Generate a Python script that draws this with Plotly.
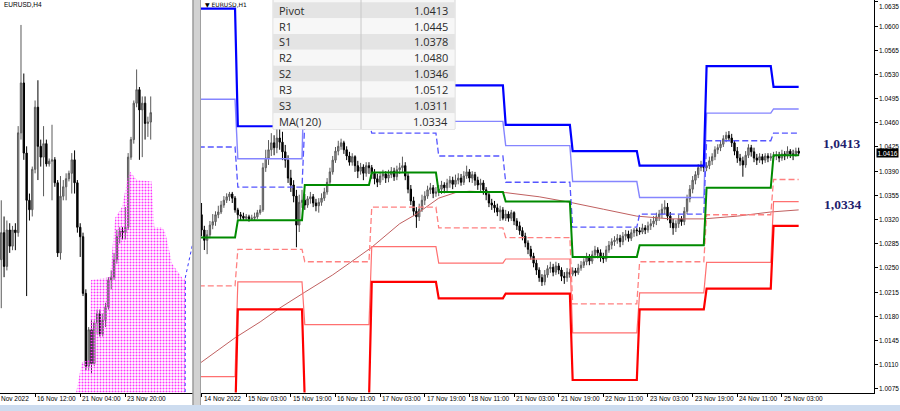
import plotly.graph_objects as go

W, H = 900, 411

# ---------------- H1 (right panel) data ----------------
# bar index = trading hour counted from 14 Nov 2022 00:00 (weekend skipped)
h1_bar = list(range(10, 226))

h1_open = [
 1.0319, 1.0327, 1.0305, 1.0290, 1.0298, 1.0312, 1.0317, 1.0327, 1.0331, 1.0341, 1.0348, 1.0353, 1.0357, 1.0351,
 1.0334, 1.0327, 1.0325, 1.0322, 1.0324, 1.0321, 1.0322, 1.0324, 1.0330, 1.0334, 1.0395, 1.0409, 1.0421, 1.0431, 1.0424, 1.0438, 1.0432, 1.0418, 1.0406, 1.0380, 1.0370, 1.0354, 1.0312, 1.0345,
 1.0348, 1.0341, 1.0350, 1.0353, 1.0344, 1.0340, 1.0345, 1.0351, 1.0360, 1.0374, 1.0389, 1.0406, 1.0419, 1.0426, 1.0431, 1.0421, 1.0412, 1.0403, 1.0411, 1.0398, 1.0390, 1.0396, 1.0387, 1.0398,
 1.0395, 1.0387, 1.0379, 1.0374, 1.0383, 1.0386, 1.0380, 1.0385, 1.0390, 1.0382, 1.0392, 1.0395, 1.0398, 1.0383, 1.0364, 1.0347, 1.0332, 1.0324, 1.0335, 1.0348, 1.0354, 1.0363, 1.0366, 1.0358,
 1.0360, 1.0364, 1.0370, 1.0366, 1.0373, 1.0377, 1.0371, 1.0377, 1.0380, 1.0374, 1.0383, 1.0389, 1.0380, 1.0385, 1.0377, 1.0370, 1.0373, 1.0363, 1.0356, 1.0344, 1.0341, 1.0337, 1.0331, 1.0334,
 1.0322, 1.0328, 1.0322, 1.0330, 1.0318, 1.0311, 1.0304, 1.0296, 1.0286, 1.0277, 1.0267, 1.0257, 1.0247, 1.0236, 1.0230, 1.0240, 1.0249, 1.0251, 1.0244, 1.0253, 1.0247, 1.0238, 1.0236, 1.0244,
 1.0241, 1.0246, 1.0243, 1.0250, 1.0254, 1.0259, 1.0266, 1.0260, 1.0269, 1.0276, 1.0272, 1.0266, 1.0263, 1.0276, 1.0283, 1.0288, 1.0290, 1.0293, 1.0288, 1.0296, 1.0299, 1.0293, 1.0301, 1.0305,
 1.0304, 1.0302, 1.0308, 1.0305, 1.0311, 1.0314, 1.0318, 1.0324, 1.0328, 1.0335, 1.0338, 1.0325, 1.0315, 1.0308, 1.0314, 1.0321, 1.0317, 1.0332, 1.0350, 1.0364, 1.0377, 1.0385, 1.0395, 1.0399,
 1.0395, 1.0398, 1.0405, 1.0411, 1.0421, 1.0424, 1.0429, 1.0437, 1.0442, 1.0438, 1.0431, 1.0419, 1.0409, 1.0405, 1.0399, 1.0413, 1.0424, 1.0418, 1.0409, 1.0406, 1.0411, 1.0406, 1.0412, 1.0409,
 1.0411, 1.0412, 1.0413, 1.0409, 1.0415, 1.0412, 1.0419, 1.0415, 1.0413, 1.0419,
]
h1_high = [
 1.0341, 1.0344, 1.0311, 1.0305, 1.0318, 1.0328, 1.0332, 1.0340, 1.0347, 1.0354, 1.0358, 1.0360, 1.0360, 1.0354,
 1.0337, 1.0331, 1.0330, 1.0328, 1.0327, 1.0327, 1.0330, 1.0334, 1.0341, 1.0402, 1.0421, 1.0435, 1.0445, 1.0442, 1.0452, 1.0481, 1.0447, 1.0428, 1.0413, 1.0392, 1.0377, 1.0363, 1.0356, 1.0363,
 1.0357, 1.0354, 1.0360, 1.0357, 1.0350, 1.0351, 1.0358, 1.0366, 1.0380, 1.0395, 1.0412, 1.0425, 1.0434, 1.0437, 1.0434, 1.0426, 1.0418, 1.0416, 1.0413, 1.0405, 1.0402, 1.0400, 1.0403, 1.0403,
 1.0399, 1.0393, 1.0386, 1.0389, 1.0392, 1.0390, 1.0392, 1.0396, 1.0395, 1.0398, 1.0402, 1.0411, 1.0403, 1.0387, 1.0370, 1.0353, 1.0338, 1.0343, 1.0356, 1.0361, 1.0369, 1.0373, 1.0370, 1.0367,
 1.0370, 1.0376, 1.0374, 1.0379, 1.0383, 1.0382, 1.0385, 1.0387, 1.0386, 1.0390, 1.0398, 1.0393, 1.0390, 1.0389, 1.0382, 1.0379, 1.0377, 1.0367, 1.0360, 1.0350, 1.0347, 1.0343, 1.0340, 1.0338,
 1.0334, 1.0332, 1.0334, 1.0332, 1.0322, 1.0317, 1.0309, 1.0301, 1.0290, 1.0282, 1.0272, 1.0262, 1.0251, 1.0241, 1.0247, 1.0254, 1.0259, 1.0256, 1.0259, 1.0257, 1.0251, 1.0244, 1.0250, 1.0249,
 1.0251, 1.0250, 1.0256, 1.0260, 1.0264, 1.0272, 1.0270, 1.0275, 1.0282, 1.0280, 1.0277, 1.0272, 1.0282, 1.0289, 1.0293, 1.0296, 1.0299, 1.0298, 1.0302, 1.0305, 1.0304, 1.0306, 1.0308, 1.0308,
 1.0309, 1.0314, 1.0312, 1.0317, 1.0321, 1.0325, 1.0330, 1.0334, 1.0343, 1.0348, 1.0344, 1.0331, 1.0321, 1.0319, 1.0327, 1.0325, 1.0338, 1.0356, 1.0370, 1.0383, 1.0390, 1.0400, 1.0405, 1.0403,
 1.0403, 1.0411, 1.0416, 1.0426, 1.0429, 1.0435, 1.0442, 1.0447, 1.0448, 1.0444, 1.0435, 1.0425, 1.0415, 1.0411, 1.0419, 1.0429, 1.0428, 1.0424, 1.0415, 1.0416, 1.0415, 1.0416, 1.0416, 1.0416,
 1.0418, 1.0419, 1.0418, 1.0421, 1.0419, 1.0426, 1.0422, 1.0421, 1.0424, 1.0424,
]
h1_low = [
 1.0308, 1.0296, 1.0276, 1.0270, 1.0293, 1.0306, 1.0311, 1.0322, 1.0328, 1.0337, 1.0344, 1.0347, 1.0344, 1.0330,
 1.0321, 1.0319, 1.0318, 1.0318, 1.0317, 1.0318, 1.0319, 1.0321, 1.0327, 1.0331, 1.0389, 1.0399, 1.0412, 1.0413, 1.0416, 1.0421, 1.0406, 1.0395, 1.0373, 1.0360, 1.0345, 1.0280, 1.0302, 1.0337,
 1.0334, 1.0337, 1.0343, 1.0338, 1.0332, 1.0330, 1.0340, 1.0347, 1.0356, 1.0369, 1.0385, 1.0402, 1.0413, 1.0421, 1.0415, 1.0406, 1.0398, 1.0398, 1.0389, 1.0380, 1.0385, 1.0377, 1.0382, 1.0386,
 1.0379, 1.0371, 1.0367, 1.0370, 1.0377, 1.0373, 1.0374, 1.0380, 1.0376, 1.0377, 1.0386, 1.0389, 1.0377, 1.0358, 1.0341, 1.0325, 1.0308, 1.0318, 1.0331, 1.0341, 1.0350, 1.0357, 1.0351, 1.0353,
 1.0354, 1.0357, 1.0358, 1.0360, 1.0366, 1.0364, 1.0367, 1.0371, 1.0369, 1.0370, 1.0379, 1.0374, 1.0373, 1.0369, 1.0363, 1.0361, 1.0356, 1.0348, 1.0338, 1.0334, 1.0330, 1.0325, 1.0318, 1.0319,
 1.0318, 1.0317, 1.0318, 1.0312, 1.0305, 1.0298, 1.0290, 1.0280, 1.0270, 1.0262, 1.0251, 1.0240, 1.0230, 1.0224, 1.0225, 1.0236, 1.0243, 1.0238, 1.0240, 1.0241, 1.0231, 1.0227, 1.0230, 1.0236,
 1.0238, 1.0238, 1.0240, 1.0246, 1.0250, 1.0254, 1.0254, 1.0256, 1.0264, 1.0264, 1.0259, 1.0257, 1.0259, 1.0272, 1.0277, 1.0282, 1.0285, 1.0280, 1.0283, 1.0290, 1.0288, 1.0289, 1.0295, 1.0296,
 1.0298, 1.0299, 1.0299, 1.0301, 1.0305, 1.0309, 1.0312, 1.0318, 1.0322, 1.0328, 1.0319, 1.0308, 1.0298, 1.0302, 1.0308, 1.0311, 1.0312, 1.0328, 1.0345, 1.0358, 1.0371, 1.0380, 1.0390, 1.0389,
 1.0390, 1.0393, 1.0399, 1.0406, 1.0415, 1.0419, 1.0425, 1.0432, 1.0434, 1.0425, 1.0413, 1.0402, 1.0398, 1.0382, 1.0395, 1.0409, 1.0411, 1.0403, 1.0399, 1.0402, 1.0400, 1.0402, 1.0403, 1.0405,
 1.0405, 1.0406, 1.0403, 1.0405, 1.0406, 1.0408, 1.0409, 1.0406, 1.0411, 1.0412,
]
h1_close = [
 1.0327, 1.0305, 1.0290, 1.0298, 1.0312, 1.0317, 1.0327, 1.0331, 1.0341, 1.0348, 1.0353, 1.0357, 1.0351, 1.0334,
 1.0327, 1.0325, 1.0322, 1.0324, 1.0321, 1.0322, 1.0324, 1.0330, 1.0334, 1.0395, 1.0409, 1.0421, 1.0431, 1.0424, 1.0438, 1.0432, 1.0418, 1.0406, 1.0380, 1.0370, 1.0354, 1.0312, 1.0345, 1.0348,
 1.0341, 1.0350, 1.0353, 1.0344, 1.0340, 1.0345, 1.0351, 1.0360, 1.0374, 1.0389, 1.0406, 1.0419, 1.0426, 1.0431, 1.0421, 1.0412, 1.0403, 1.0411, 1.0398, 1.0390, 1.0396, 1.0387, 1.0398, 1.0395,
 1.0387, 1.0379, 1.0374, 1.0383, 1.0386, 1.0380, 1.0385, 1.0390, 1.0382, 1.0392, 1.0395, 1.0398, 1.0383, 1.0364, 1.0347, 1.0332, 1.0324, 1.0335, 1.0348, 1.0354, 1.0363, 1.0366, 1.0358, 1.0360,
 1.0364, 1.0370, 1.0366, 1.0373, 1.0377, 1.0371, 1.0377, 1.0380, 1.0374, 1.0383, 1.0389, 1.0380, 1.0385, 1.0377, 1.0370, 1.0373, 1.0363, 1.0356, 1.0344, 1.0341, 1.0337, 1.0331, 1.0334, 1.0322,
 1.0328, 1.0322, 1.0330, 1.0318, 1.0311, 1.0304, 1.0296, 1.0286, 1.0277, 1.0267, 1.0257, 1.0247, 1.0236, 1.0230, 1.0240, 1.0249, 1.0251, 1.0244, 1.0253, 1.0247, 1.0238, 1.0236, 1.0244, 1.0241,
 1.0246, 1.0243, 1.0250, 1.0254, 1.0259, 1.0266, 1.0260, 1.0269, 1.0276, 1.0272, 1.0266, 1.0263, 1.0276, 1.0283, 1.0288, 1.0290, 1.0293, 1.0288, 1.0296, 1.0299, 1.0293, 1.0301, 1.0305, 1.0304,
 1.0302, 1.0308, 1.0305, 1.0311, 1.0314, 1.0318, 1.0324, 1.0328, 1.0335, 1.0338, 1.0325, 1.0315, 1.0308, 1.0314, 1.0321, 1.0317, 1.0332, 1.0350, 1.0364, 1.0377, 1.0385, 1.0395, 1.0399, 1.0395,
 1.0398, 1.0405, 1.0411, 1.0421, 1.0424, 1.0429, 1.0437, 1.0442, 1.0438, 1.0431, 1.0419, 1.0409, 1.0405, 1.0399, 1.0413, 1.0424, 1.0418, 1.0409, 1.0406, 1.0411, 1.0406, 1.0412, 1.0409, 1.0411,
 1.0412, 1.0413, 1.0409, 1.0415, 1.0412, 1.0419, 1.0415, 1.0413, 1.0419, 1.0416,
]

# daily pivot levels (14 Nov ... 25 Nov)
day_first_bar = [10, 24, 48, 72, 96, 120, 144, 168, 192, 216]
day_last_bar = [23, 47, 71, 95, 119, 143, 167, 191, 215, 225]
piv_R3 = [1.0625, 1.0455, 1.0663, 1.0552, 1.0514, 1.0457, 1.0419, 1.0398, 1.0542, 1.0512]
piv_R2 = [1.0494, 1.0408, 1.0572, 1.0495, 1.0462, 1.0427, 1.0375, 1.0352, 1.0474, 1.0480]
piv_R1 = [1.0425, 1.0367, 1.0461, 1.0445, 1.0412, 1.0374, 1.0309, 1.0328, 1.0434, 1.0445]
piv_P = [1.0294, 1.0319, 1.0370, 1.0388, 1.0360, 1.0346, 1.0266, 1.0283, 1.0366, 1.0413]
piv_S1 = [1.0224, 1.0277, 1.0259, 1.0338, 1.0308, 1.0294, 1.0198, 1.0259, 1.0327, 1.0378]
piv_S2 = [1.0093, 1.0230, 1.0168, 1.0281, 1.0257, 1.0263, 1.0156, 1.0214, 1.0258, 1.0346]
piv_S3 = [1.0025, 1.0190, 1.0057, 1.0230, 1.0206, 1.0213, 1.0088, 1.0190, 1.0220, 1.0311]

# MA(120)
ma_bar = [10, 23, 32, 39, 48, 58, 64, 72, 82, 88, 96, 102, 107, 115, 120, 132, 143, 155, 167, 179, 191, 203, 215, 225]
ma_val = [1.0111, 1.0149, 1.0172, 1.0192, 1.0215, 1.0240, 1.0257, 1.0280, 1.0314, 1.0328, 1.0351, 1.0359,
          1.0361, 1.0360, 1.0359, 1.0353, 1.0345, 1.0335, 1.0325, 1.0321, 1.0321, 1.0325, 1.0331, 1.0334]

h1_tick_bar = [11, 27, 43, 59, 75, 91, 107, 123, 139, 155, 171, 187, 203, 219]
h1_tick_text = ["14 Nov 2022", "15 Nov 03:00", "15 Nov 19:00", "16 Nov 11:00", "17 Nov 03:00",
                "17 Nov 19:00", "18 Nov 11:00", "21 Nov 03:00", "21 Nov 19:00", "22 Nov 11:00",
                "23 Nov 03:00", "23 Nov 19:00", "24 Nov 11:00", "25 Nov 03:00"]
price_ticks = [1.0075, 1.0110, 1.0145, 1.0180, 1.0215, 1.0250, 1.0285, 1.0320, 1.0355,
               1.0390, 1.0425, 1.0460, 1.0495, 1.0530, 1.0565, 1.0600, 1.0635]
last_price = 1.0416

table_names = ["Pivot", "R1", "S1", "R2", "S2", "R3", "S3", "MA(120)"]
table_values = ["1.0413", "1.0445", "1.0378", "1.0480", "1.0346", "1.0512", "1.0311", "1.0334"]
big_labels = ["1,0413", "1,0334"]

# ---------------- H4 (left panel) data ----------------
h4_bar = list(range(2, 57))
h4_open = [1.0297, 1.0307, 1.0327, 1.0302, 1.0329, 1.0317, 1.0329, 1.0327, 1.0401, 1.0438, 1.0386, 1.0351, 1.0344, 1.0374,
           1.0420, 1.0391, 1.0383, 1.0393, 1.0378, 1.0380, 1.0381, 1.0364, 1.0312, 1.0354, 1.0361, 1.0367, 1.0371, 1.0381,
           1.0364, 1.0331, 1.0324, 1.0282, 1.0228, 1.0255, 1.0230, 1.0260, 1.0267, 1.0252, 1.0262, 1.0272, 1.0292, 1.0294,
           1.0307, 1.0324, 1.0328, 1.0327, 1.0331, 1.0383, 1.0396, 1.0423, 1.0433, 1.0418, 1.0423, 1.0408, 1.0409]
h4_high = [1.0327, 1.0351, 1.0339, 1.0336, 1.0334, 1.0332, 1.0334, 1.0406, 1.0481, 1.0445, 1.0391, 1.0356, 1.0376, 1.0425,
           1.0440, 1.0396, 1.0406, 1.0396, 1.0382, 1.0407, 1.0383, 1.0366, 1.0369, 1.0366, 1.0371, 1.0373, 1.0386, 1.0388,
           1.0366, 1.0334, 1.0327, 1.0285, 1.0257, 1.0262, 1.0262, 1.0270, 1.0270, 1.0267, 1.0275, 1.0294, 1.0299, 1.0312,
           1.0329, 1.0331, 1.0331, 1.0346, 1.0386, 1.0398, 1.0425, 1.0448, 1.0435, 1.0428, 1.0428, 1.0413, 1.0428]
h4_low = [1.0290, 1.0271, 1.0294, 1.0299, 1.0312, 1.0314, 1.0314, 1.0324, 1.0396, 1.0381, 1.0280, 1.0336, 1.0339, 1.0371,
          1.0366, 1.0376, 1.0354, 1.0376, 1.0376, 1.0351, 1.0361, 1.0309, 1.0307, 1.0351, 1.0351, 1.0365, 1.0356, 1.0356,
          1.0327, 1.0309, 1.0280, 1.0225, 1.0225, 1.0223, 1.0228, 1.0252, 1.0250, 1.0250, 1.0257, 1.0270, 1.0285, 1.0292,
          1.0304, 1.0319, 1.0322, 1.0322, 1.0329, 1.0381, 1.0393, 1.0420, 1.0381, 1.0383, 1.0396, 1.0398, 1.0396]
h4_close = [1.0307, 1.0327, 1.0302, 1.0329, 1.0317, 1.0329, 1.0327, 1.0401, 1.0438, 1.0386, 1.0351, 1.0344, 1.0374, 1.0420,
            1.0391, 1.0383, 1.0393, 1.0378, 1.0380, 1.0381, 1.0364, 1.0312, 1.0354, 1.0361, 1.0367, 1.0371, 1.0381, 1.0364,
            1.0331, 1.0324, 1.0282, 1.0228, 1.0255, 1.0230, 1.0260, 1.0267, 1.0252, 1.0262, 1.0272, 1.0292, 1.0294, 1.0307,
            1.0324, 1.0328, 1.0327, 1.0331, 1.0383, 1.0396, 1.0423, 1.0433, 1.0418, 1.0423, 1.0408, 1.0409, 1.0416]
h4_tick_bar = [15, 31, 47]
h4_tick_text = ["16 Nov 12:00", "21 Nov 04:00", "23 Nov 20:00"]
h4_first_label = "Nov 2022"

cloud_bar = [29.6, 31.6, 34.4, 34.8, 41.5, 43.4, 45.8, 48.2, 48.8, 51.1, 56.3, 57.3, 60.0, 61.2, 63.6, 67.7, 68.3]
cloud_top = [1.0209, 1.0231, 1.0233, 1.0292, 1.0294, 1.0338, 1.0346, 1.0371, 1.0372, 1.0366, 1.0365, 1.0331,
             1.0331, 1.0327, 1.0304, 1.0292, 1.0294]
cloud_floor = 1.0150
blue_bar = [68.2, 68.3, 70.9]
blue_val = [1.0200, 1.0294, 1.0319]

# ---------------- geometry helpers ----------------
def X(px):
    return px / W

def Y(py):
    return 1 - py / H

PLOT_BOTTOM = 392.5
FONT = "Liberation Sans"
axis_font = dict(family=FONT, size=6.5, color="#000000")

fig = go.Figure()

# ---- left panel (H4) ----
fig.add_trace(go.Scatter(
    x=cloud_bar + [cloud_bar[-1], cloud_bar[0]],
    y=cloud_top + [cloud_floor, cloud_floor],
    mode="lines", fill="toself", line=dict(width=0),
    fillcolor="rgba(255,255,255,0)",
    fillpattern=dict(shape=".", fgcolor="#ff33ff", bgcolor="rgba(255,255,255,0)",
                     size=3, solidity=0.35, fillmode="replace"),
    hoverinfo="skip", xaxis="x", yaxis="y"))
fig.add_trace(go.Scatter(x=blue_bar, y=blue_val, mode="lines",
                         line=dict(color="#3a3aff", width=1, dash="dot"),
                         hoverinfo="skip", xaxis="x", yaxis="y"))
fig.add_trace(go.Candlestick(
    x=h4_bar, open=h4_open, high=h4_high, low=h4_low, close=h4_close,
    increasing=dict(line=dict(color="#5a5a5a", width=1), fillcolor="#9c9c9c"),
    decreasing=dict(line=dict(color="#000000", width=1), fillcolor="#000000"),
    hoverinfo="skip", xaxis="x", yaxis="y"))

# ---- right panel (H1) ----
fig.add_trace(go.Scatter(x=ma_bar, y=ma_val, mode="lines",
                         line=dict(color="#c06060", width=1),
                         hoverinfo="skip", xaxis="x2", yaxis="y2"))

def level_series(vals):
    xs, ys = [], []
    for first, last, v in zip(day_first_bar, day_last_bar, vals):
        for b in range(first, last + 1):
            xs.append(b)
            ys.append(v)
    return xs, ys

level_styles = [
    (piv_S2, "#ff7070", 1.2, "solid"),
    (piv_S1, "#ff8080", 1.3, "6px,3px"),
    (piv_R2, "#8585ff", 1.4, "solid"),
    (piv_R1, "#5555ff", 1.3, "6px,3px"),
    (piv_S3, "#ff0000", 2.2, "solid"),
    (piv_R3, "#0000ff", 2.2, "solid"),
    (piv_P, "#008a00", 2.0, "solid"),
]
for vals, color, width, dash in level_styles:
    xs, ys = level_series(vals)
    fig.add_trace(go.Scatter(x=xs, y=ys, mode="lines",
                             line=dict(color=color, width=width, dash=dash),
                             hoverinfo="skip", xaxis="x2", yaxis="y2"))

fig.add_trace(go.Candlestick(
    x=h1_bar, open=h1_open, high=h1_high, low=h1_low, close=h1_close,
    increasing=dict(line=dict(color="#5a5a5a", width=1), fillcolor="#9c9c9c"),
    decreasing=dict(line=dict(color="#000000", width=1), fillcolor="#000000"),
    hoverinfo="skip", xaxis="x2", yaxis="y2"))

# ---------------- shapes ----------------
shapes = []
# panel separator
shapes.append(dict(type="rect", xref="paper", yref="paper", x0=X(192.5), x1=X(201), y0=Y(405), y1=Y(0),
                   fillcolor="#d2d2d2", line=dict(width=0), layer="above"))
shapes.append(dict(type="line", xref="paper", yref="paper", x0=X(193), x1=X(193), y0=Y(405), y1=Y(0),
                   line=dict(color="#808080", width=1), layer="above"))
shapes.append(dict(type="line", xref="paper", yref="paper", x0=X(200.5), x1=X(200.5), y0=Y(405), y1=Y(0),
                   line=dict(color="#a0a0a0", width=1), layer="above"))
# bottom tab strip
shapes.append(dict(type="rect", xref="paper", yref="paper", x0=0, x1=1, y0=0, y1=Y(405),
                   fillcolor="#cddcef", line=dict(width=0), layer="above"))

# table
TX0, TX1, TDIV = 273, 455, 361
ROW_TOP, ROW_H = 2.3, 15.85
shapes.append(dict(type="rect", xref="paper", yref="paper", x0=X(TX0), x1=X(TX1), y0=Y(ROW_TOP + 8 * ROW_H), y1=Y(-2),
                   fillcolor="#f7f7f7", line=dict(color="#d6d6d6", width=1), layer="above"))
for k in range(len(table_names)):
    top = ROW_TOP + k * ROW_H
    color = "#e4e4e4" if k % 2 == 0 else "#f7f7f7"
    shapes.append(dict(type="rect", xref="paper", yref="paper", x0=X(TX0 + 0.5), x1=X(TX1 - 0.5),
                       y0=Y(top + ROW_H), y1=Y(top), fillcolor=color, line=dict(width=0), layer="above"))
shapes.append(dict(type="line", xref="paper", yref="paper", x0=X(TDIV), x1=X(TDIV), y0=Y(ROW_TOP + 8 * ROW_H), y1=Y(0),
                   line=dict(color="#c8c8c8", width=1), layer="above"))

# ---------------- annotations ----------------
ann = []
for k, (name, val) in enumerate(zip(table_names, table_values)):
    cy = ROW_TOP + k * ROW_H + ROW_H / 2
    ann.append(dict(text=name, xref="paper", yref="paper", x=X(277), y=Y(cy), xanchor="left", yanchor="middle",
                    showarrow=False, font=dict(family="Open Sans", size=11, color="#2b2b2b")))
    ann.append(dict(text=val, xref="paper", yref="paper", x=X(450), y=Y(cy), xanchor="right", yanchor="middle",
                    showarrow=False, font=dict(family="Open Sans", size=11, color="#2b2b2b")))

ann.append(dict(text=big_labels[0], xref="paper", yref="paper", x=X(841), y=Y(143), xanchor="center", yanchor="middle",
                showarrow=False, font=dict(family="Liberation Serif", size=13.5, color="#1f1f6e", weight="bold")))
ann.append(dict(text=big_labels[1], xref="paper", yref="paper", x=X(842), y=Y(204), xanchor="center", yanchor="middle",
                showarrow=False, font=dict(family="Liberation Serif", size=13.5, color="#1f1f6e", weight="bold")))

# price-axis labels (right panel), drawn right of the axis line
for v in price_ticks:
    ann.append(dict(text=f"{v:.4f}", xref="paper", yref="y2", x=X(878), y=v, xanchor="left",
                    yanchor="top" if v == max(price_ticks) else "middle",
                    showarrow=False, font=axis_font, borderpad=0))
ann.append(dict(text=f"{last_price:.4f}", xref="paper", yref="y2", x=X(876), y=last_price, xanchor="left",
                yanchor="middle", showarrow=False, bgcolor="#000000", borderpad=0.5,
                font=dict(family=FONT, size=6.5, color="#ffffff")))

# time-axis labels, starting at their tick (MetaTrader style)
for b, t in zip(h1_tick_bar, h1_tick_text):
    ann.append(dict(text=t, xref="x2", yref="paper", x=b, y=Y(398), xanchor="left", yanchor="middle",
                    xshift=1, showarrow=False, font=axis_font, borderpad=0))
for b, t in zip(h4_tick_bar, h4_tick_text):
    ann.append(dict(text=t, xref="x", yref="paper", x=b, y=Y(398), xanchor="left", yanchor="middle",
                    xshift=1, showarrow=False, font=axis_font, borderpad=0))
ann.append(dict(text=h4_first_label, xref="paper", yref="paper", x=X(0), y=Y(398), xanchor="left", yanchor="middle",
                showarrow=False, font=axis_font, borderpad=0))

ann.append(dict(text="▼ EURUSD,H1", xref="paper", yref="paper", x=X(203), y=Y(4.5), xanchor="left", yanchor="middle",
                showarrow=False, font=dict(family="DejaVu Sans", size=6, color="#000000")))
ann.append(dict(text="EURUSD,H4", xref="paper", yref="paper", x=X(2), y=Y(5), xanchor="left", yanchor="middle",
                showarrow=False, font=dict(family=FONT, size=6.5, color="#000000")))

fig.update_layout(
    width=W, height=H, margin=dict(l=0, r=0, t=0, b=0, pad=0),
    paper_bgcolor="white", plot_bgcolor="white", showlegend=False,
    xaxis=dict(domain=[0, X(192.5)], range=[2.556, 70.82], anchor="y",
               showgrid=False, zeroline=False, showline=True, linecolor="#000000", linewidth=1,
               ticks="outside", ticklen=3, tickcolor="#000000", tickvals=h4_tick_bar,
               showticklabels=False, rangeslider=dict(visible=False), fixedrange=True),
    yaxis=dict(domain=[Y(PLOT_BOTTOM), 1], range=[1.02085, 1.04995], anchor="x", side="right",
               showgrid=False, zeroline=False, showline=True, linecolor="#000000", linewidth=1,
               showticklabels=False, ticks="", fixedrange=True),
    xaxis2=dict(domain=[X(201), X(874)], range=[10.8, 252.0], anchor="y2",
                showgrid=False, zeroline=False, showline=True, linecolor="#000000", linewidth=1,
                ticks="outside", ticklen=3, tickcolor="#000000", tickvals=h1_tick_bar,
                showticklabels=False, rangeslider=dict(visible=False), fixedrange=True),
    yaxis2=dict(domain=[Y(PLOT_BOTTOM), 1], range=[1.00699, 1.06376], anchor="x2", side="right",
                showgrid=False, zeroline=False, showline=True, linecolor="#000000", linewidth=1,
                ticks="outside", ticklen=3, tickcolor="#000000", tickvals=price_ticks,
                showticklabels=False, fixedrange=True),
    shapes=shapes, annotations=ann,
)

fig.write_html("out.html", config={"displayModeBar": False})

# remove the browser's default page margin so the figure sits at the window's top-left corner
with open("out.html", encoding="utf-8") as f:
    html = f.read()
html = html.replace("<head>", "<head><style>html,body{margin:0;padding:0;overflow:hidden;}</style>", 1)
with open("out.html", "w", encoding="utf-8") as f:
    f.write(html)
